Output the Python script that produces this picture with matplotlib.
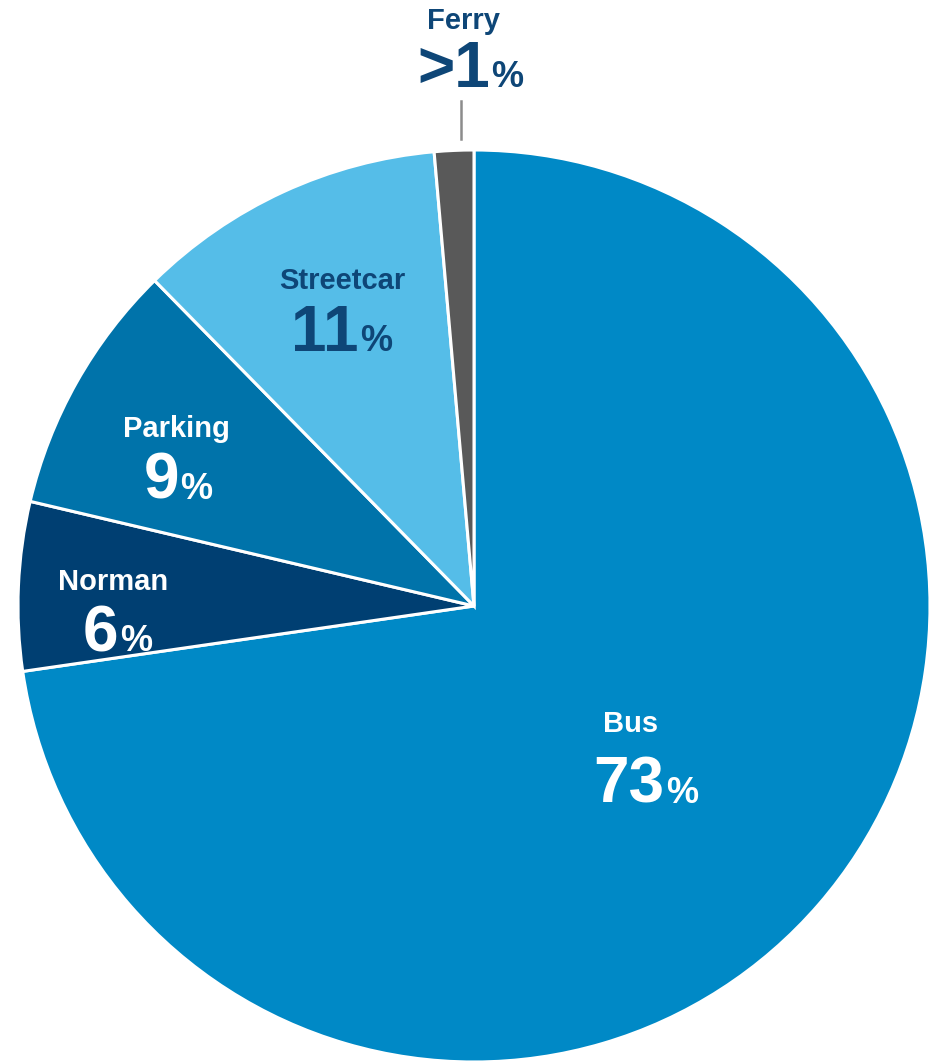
import matplotlib
matplotlib.use('Agg')
import matplotlib.pyplot as plt

plt.rcParams['font.family'] = ['Liberation Sans', 'DejaVu Sans']

# share by mode, clockwise from 12 o'clock
modes = ['Bus', 'Norman', 'Parking', 'Streetcar', 'Ferry']
shares = [73, 6, 9, 11, 1.4]
share_labels = ['73', '6', '9', '11', '>1']
colors = ['#0089C6', '#003F72', '#0073AA', '#55BDE8', '#595959']
text_colors = ['white', 'white', 'white', '#0E4677', '#0E4677']

# label anchors in pie units (radius = 1): name centre, number/percent join
name_pos = [(0.343, -0.277), (-0.791, 0.035), (-0.652, 0.370), (-0.289, 0.695), (-0.024, 1.265)]
num_pos = [(0.418, -0.432), (-0.780, -0.099), (-0.647, 0.235), (-0.253, 0.559), (0.035, 1.138)]

W, H = 936, 1063
CX, CY, R = 474, 606, 456

fig = plt.figure(figsize=(W / 100, H / 100), dpi=100)
ax = fig.add_axes([0, 0, 1, 1])

ax.pie(
    shares,
    colors=colors,
    startangle=90,
    counterclock=False,
    radius=1.0,
    wedgeprops={'edgecolor': 'white', 'linewidth': 2.2},
)

for i, mode in enumerate(modes):
    nx, ny = name_pos[i]
    ax.text(nx, ny, mode, ha='center', va='baseline', fontsize=21,
            fontweight='bold', color=text_colors[i])
    px, py = num_pos[i]
    ax.text(px, py, share_labels[i], ha='right', va='baseline', fontsize=46,
            fontweight='bold', color=text_colors[i])
    ax.text(px + 0.003, py, '%', ha='left', va='baseline', fontsize=26,
            fontweight='bold', color=text_colors[i])

# leader line for the small ferry slice
ax.plot([-0.029, -0.029], [1.107, 1.024], color='#8C8C8C', linewidth=1.8)

ax.set_xlim(-CX / R, (W - CX) / R)
ax.set_ylim(-(H - CY) / R, CY / R)
ax.axis('off')

fig.savefig('out.png', dpi=100, facecolor='white')
